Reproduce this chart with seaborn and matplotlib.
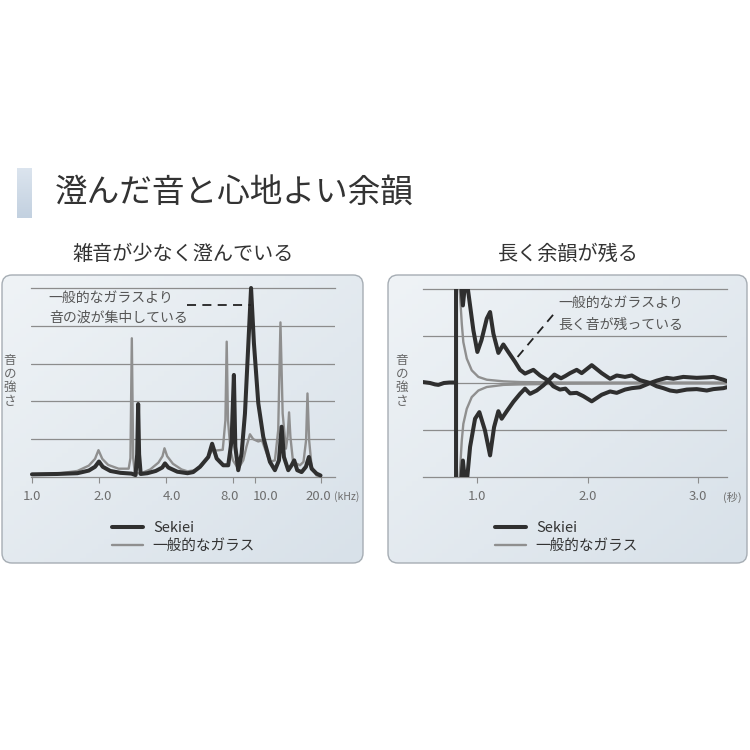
import numpy as np
import pandas as pd
import matplotlib
matplotlib.use("Agg")
import matplotlib.pyplot as plt
from matplotlib.patches import FancyBboxPatch
from matplotlib.colors import LinearSegmentedColormap
from matplotlib.lines import Line2D
from matplotlib.ticker import NullLocator
from matplotlib.transforms import ScaledTranslation
import seaborn as sns

# ---- left panel: frequency spectrum (kHz vs. intensity) ----
sekiei_freq = [1.00, 1.30, 1.60, 1.80, 1.92, 2.00, 2.08, 2.25, 2.50, 2.80, 2.92, 2.97, 3.00, 3.03, 3.08,
               3.30, 3.60, 3.85, 3.96, 4.10, 4.50, 5.00, 5.30, 5.69, 6.20, 6.45, 6.76, 7.24, 7.62, 7.89,
               8.08, 8.20, 8.45, 8.75, 9.06, 9.37, 9.65, 9.94, 10.4, 10.95, 11.73, 12.35, 12.88, 13.24,
               13.56, 14.18, 14.68, 15.08, 15.56, 16.28, 17.02, 17.56, 18.06, 19.0, 19.8]
sekiei_level = [0.07, 0.08, 0.10, 0.17, 0.27, 0.41, 0.27, 0.16, 0.11, 0.09, 0.05, 0.60, 1.93, 0.60, 0.08,
                0.10, 0.16, 0.25, 0.36, 0.25, 0.14, 0.10, 0.13, 0.27, 0.53, 0.88, 0.49, 0.31, 0.31, 0.97,
                2.70, 0.80, 0.18, 0.62, 1.68, 3.45, 5.00, 3.54, 1.95, 1.06, 0.40, 0.18, 0.44, 1.33,
                0.53, 0.18, 0.31, 0.44, 0.18, 0.13, 0.27, 0.53, 0.22, 0.09, 0.04]

glass_freq = [1.00, 1.30, 1.60, 1.80, 1.92, 1.99, 2.07, 2.20, 2.45, 2.72, 2.77, 2.81, 2.85, 2.90, 3.10,
              3.40, 3.70, 3.86, 3.94, 4.05, 4.30, 4.70, 5.00, 5.40, 5.80, 6.20, 6.45, 7.20, 7.40, 7.50,
              7.60, 7.80, 8.00, 8.45, 8.90, 9.20, 9.54, 9.87, 10.4, 10.8, 11.2, 11.7, 12.35, 12.78,
              13.08, 13.38, 13.84, 14.08, 14.3, 14.5, 14.9, 16.0, 16.6, 17.05, 17.3, 17.6, 18.06, 19.0, 19.8]
glass_level = [0.07, 0.09, 0.16, 0.30, 0.48, 0.71, 0.48, 0.32, 0.22, 0.22, 0.50, 3.67, 0.50, 0.10, 0.10,
               0.20, 0.38, 0.55, 0.76, 0.55, 0.35, 0.20, 0.15, 0.18, 0.30, 0.55, 0.69, 0.72, 1.50, 3.58,
               1.50, 0.71, 0.44, 0.22, 0.44, 0.80, 1.13, 1.00, 0.94, 0.97, 0.71, 0.40, 0.44, 1.24,
               4.09, 1.68, 0.75, 1.06, 1.71, 1.06, 0.40, 0.31, 0.40, 0.97, 2.21, 0.97, 0.27, 0.04, 0.02]

freq_ticks = [1, 2, 4, 8, 10, 20]
freq_labels = ["1.0", "2.0", "4.0", "8.0", "10.0", "20.0"]

lead_left_freq = [4.96, 9.6]
lead_left_level = [4.56, 4.56]

# ---- right panel: decay over time (seconds vs. amplitude) ----
sekiei_upper_time = [0.51, 0.575, 0.62, 0.65, 0.70, 0.75, 0.81, 0.81, 0.845, 0.872, 0.90, 0.967, 1.003,
                     1.04, 1.088, 1.118, 1.148, 1.193, 1.238, 1.283, 1.344, 1.389, 1.434, 1.51, 1.57,
                     1.645, 1.70, 1.76, 1.80, 1.842, 1.902, 1.947, 2.038, 2.128, 2.204, 2.264, 2.339,
                     2.40, 2.475, 2.566, 2.626, 2.717, 2.777, 2.867, 2.988, 3.079, 3.139, 3.229, 3.26]
sekiei_upper_level = [0.02, 0.0, -0.03, -0.04, 0.0, 0.01, 0.01, 2.4, 2.4, 1.65, 2.3, 1.12, 0.66,
                      0.91, 1.37, 1.51, 1.05, 0.64, 0.82, 0.66, 0.45, 0.28, 0.20, 0.28, 0.16,
                      0.05, 0.18, 0.10, 0.15, 0.21, 0.28, 0.21, 0.38, 0.21, 0.09, 0.16, 0.13,
                      0.16, 0.06, 0.0, 0.05, 0.11, 0.09, 0.13, 0.11, 0.12, 0.13, 0.07, 0.04]

sekiei_lower_time = [0.81, 0.81, 0.845, 0.872, 0.90, 0.937, 0.982, 1.021, 1.072, 1.118, 1.154, 1.193,
                     1.223, 1.269, 1.329, 1.389, 1.434, 1.48, 1.54, 1.60, 1.645, 1.69, 1.75, 1.80,
                     1.842, 1.902, 1.962, 2.038, 2.128, 2.204, 2.264, 2.339, 2.40, 2.475, 2.566,
                     2.626, 2.686, 2.747, 2.807, 2.898, 2.988, 3.079, 3.139, 3.229, 3.26]
sekiei_lower_level = [0.01, -2.4, -2.4, -1.65, -2.3, -1.36, -0.76, -0.62, -1.01, -1.54, -0.94, -0.60,
                      -0.76, -0.60, -0.40, -0.23, -0.12, -0.23, -0.16, -0.05, 0.05, -0.07, -0.14, -0.12,
                      -0.22, -0.21, -0.28, -0.39, -0.25, -0.18, -0.21, -0.14, -0.11, -0.09, 0.0,
                      -0.07, -0.11, -0.16, -0.18, -0.14, -0.13, -0.16, -0.13, -0.11, -0.09]

glass_upper_time = [0.835, 0.862, 0.876, 0.907, 0.952, 1.012, 1.088, 1.24, 1.39, 1.8, 2.5, 3.26]
glass_upper_level = [2.3, 1.26, 0.87, 0.52, 0.27, 0.13, 0.07, 0.035, 0.02, 0.01, 0.01, 0.01]
glass_lower_time = [0.835, 0.862, 0.876, 0.907, 0.952, 1.012, 1.088, 1.24, 1.39, 1.8, 2.5, 3.26]
glass_lower_level = [-2.3, -1.22, -0.87, -0.55, -0.30, -0.16, -0.085, -0.04, -0.03, -0.015, -0.01, -0.01]

time_ticks = [1, 2, 3]
time_labels = ["1.0", "2.0", "3.0"]

lead_right_time = [1.688, 1.344]
lead_right_level = [1.45, 0.49]

DARK = "#2f2f2f"
GRAY = "#8f8f8f"
GRID = "#8c8c8c"
TEXT = "#555555"

sns.set_style("white")
plt.rcParams['font.family'] = ['Noto Sans CJK JP', 'DejaVu Sans']

fig = plt.figure(figsize=(7.5, 7.5), dpi=100)
fig.patch.set_facecolor("white")


def fx(px):
    return px / 750


def fy(py):
    return 1 - py / 750


# background layer in pixel coordinates
bg = fig.add_axes([0, 0, 1, 1], zorder=-10)
bg.set_xlim(0, 750)
bg.set_ylim(750, 0)
bg.axis("off")

panel_cmap = LinearSegmentedColormap.from_list("panel", ["#eff3f6", "#d8e1e9"])
ramp = np.add.outer(np.linspace(0, 1, 60), np.linspace(0, 1, 60)) / 2
for x0, x1 in [(2, 363), (388, 747)]:
    box = FancyBboxPatch((x0, 275), x1 - x0, 288, boxstyle="round,pad=0,rounding_size=10",
                         fc="none", ec="#a6adb4", lw=1.0)
    bg.add_patch(box)
    im = bg.imshow(ramp, cmap=panel_cmap, extent=(x0, x1, 563, 275), aspect="auto")
    im.set_clip_path(box)

bar_cmap = LinearSegmentedColormap.from_list("bar", ["#dbe4ee", "#c3d1e0"])
bg.imshow(np.linspace(0, 1, 40)[:, None], cmap=bar_cmap, extent=(17, 32, 218, 168), aspect="auto")

# titles
fig.text(fx(55), fy(193), "澄んだ音と心地よい余韻", fontsize=23.5, color="#333333", va="center", ha="left")
fig.text(fx(183), fy(254), "雑音が少なく澄んでいる", fontsize=14.5, color="#333333", va="center", ha="center")
fig.text(fx(568), fy(254), "長く余韻が残る", fontsize=14.5, color="#333333", va="center", ha="center")

# ---- left axes ----
axL = fig.add_axes([fx(31), fy(477), fx(335) - fx(31), fy(288) - fy(477)])
axL.set_facecolor("none")
spec_glass = pd.DataFrame({"freq": glass_freq, "level": glass_level})
spec_sekiei = pd.DataFrame({"freq": sekiei_freq, "level": sekiei_level})
sns.lineplot(data=spec_glass, x="freq", y="level", ax=axL, color=GRAY, lw=1.7,
             sort=False, estimator=None, clip_on=False, zorder=3)
sns.lineplot(data=spec_sekiei, x="freq", y="level", ax=axL, color=DARK, lw=2.9,
             sort=False, estimator=None, clip_on=False, zorder=4)
axL.plot(lead_left_freq, lead_left_level, color="#222222", lw=1.3, ls=(0, (5, 3.5)), zorder=5)

axL.set_xscale("log")
axL.set_xlim(0.99, 23.0)
axL.set_ylim(0, 5)
axL.set_xticks(freq_ticks)
axL.set_xticklabels(freq_labels)
axL.xaxis.set_minor_locator(NullLocator())
axL.set_yticks([1, 2, 3, 4])
axL.xaxis.get_major_ticks()[0].tick1line.set_visible(False)

axL.text(1.19, 4.74, "一般的なガラスより", fontsize=10, color=TEXT, va="center", ha="left")
axL.text(1.19, 4.21, "音の波が集中している", fontsize=10, color=TEXT, va="center", ha="left")

# ---- right axes ----
axR = fig.add_axes([fx(423), fy(477), fx(727) - fx(423), fy(289) - fy(477)])
axR.set_facecolor("none")
decay_glass = pd.concat([
    pd.DataFrame({"time": glass_upper_time, "level": glass_upper_level, "trace": "upper"}),
    pd.DataFrame({"time": glass_lower_time, "level": glass_lower_level, "trace": "lower"}),
])
decay_sekiei = pd.concat([
    pd.DataFrame({"time": sekiei_upper_time, "level": sekiei_upper_level, "trace": "upper"}),
    pd.DataFrame({"time": sekiei_lower_time, "level": sekiei_lower_level, "trace": "lower"}),
])
sns.lineplot(data=decay_glass, x="time", y="level", units="trace", ax=axR, color=GRAY, lw=1.7,
             sort=False, estimator=None, zorder=3)
sns.lineplot(data=decay_sekiei, x="time", y="level", units="trace", ax=axR, color=DARK, lw=2.9,
             sort=False, estimator=None, zorder=4)
axR.plot(lead_right_time, lead_right_level, color="#222222", lw=1.3, ls=(0, (5, 3.5)), zorder=5)

axR.set_xlim(0.511, 3.262)
axR.set_ylim(-2, 2)
axR.set_xticks(time_ticks)
axR.set_xticklabels(time_labels)
axR.set_yticks([-1, 0, 1])

axR.text(1.733, 1.70, "一般的なガラスより", fontsize=10, color=TEXT, va="center", ha="left")
axR.text(1.733, 1.23, "長く音が残っている", fontsize=10, color=TEXT, va="center", ha="left")

for ax in (axL, axR):
    ax.set_xlabel("")
    ax.set_ylabel("")
    ax.set_axisbelow(True)
    ax.grid(axis="y", color=GRID, lw=0.9)
    ax.grid(axis="x", visible=False)
    for side in ("left", "right"):
        ax.spines[side].set_visible(False)
    for side in ("top", "bottom"):
        ax.spines[side].set_visible(True)
        ax.spines[side].set_color(GRID)
        ax.spines[side].set_linewidth(0.9)
    ax.tick_params(axis="y", left=False, labelleft=False)
    ax.tick_params(axis="x", bottom=True, length=4.5, width=0.8, color=GRID,
                   labelsize=9.5, labelcolor="#6e6e6e", pad=5)
    if ax.get_legend() is not None:
        ax.get_legend().remove()

# nudge the crowded kHz labels sideways like the original artwork
label_shift_px = [0, 3.5, 6, -3.5, 11, -3.5]
for lab, dx in zip(axL.get_xticklabels(), label_shift_px):
    lab.set_transform(lab.get_transform() + ScaledTranslation(dx / 100, 0, fig.dpi_scale_trans))

# units and y titles
fig.text(fx(347), fy(497), "(kHz)", fontsize=7.5, color="#6e6e6e", va="center", ha="center")
fig.text(fx(732), fy(497), "(秒)", fontsize=8, color="#6e6e6e", va="center", ha="center")
for px in (10, 402):
    fig.text(fx(px), fy(381), "音\nの\n強\nさ", fontsize=9, color="#666666", va="center", ha="center",
             linespacing=1.05)

# legends
handles = [Line2D([], [], color=DARK, lw=2.9), Line2D([], [], color=GRAY, lw=1.7)]
names = ["Sekiei", "一般的なガラス"]
for px in (112, 495):
    fig.legend(handles, names, loc="center left", bbox_to_anchor=(fx(px), fy(537)),
               frameon=False, fontsize=10.5, handlelength=2.1, handletextpad=0.7,
               labelspacing=0.25, borderpad=0, borderaxespad=0, labelcolor="#333333")

fig.savefig("out.png", dpi=100, facecolor="white")
